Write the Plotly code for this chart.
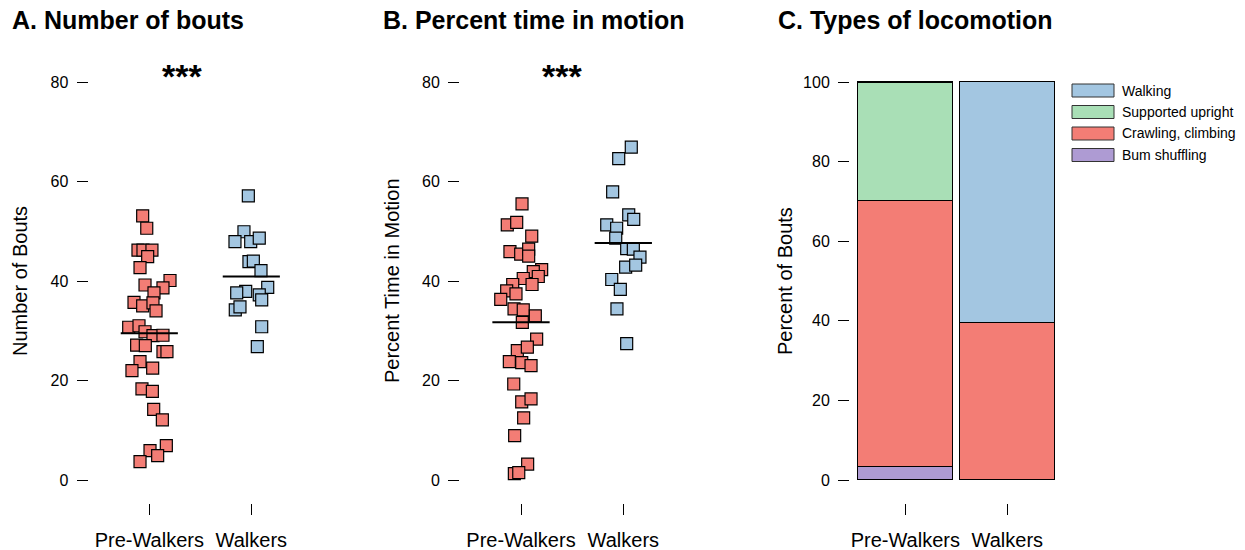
import plotly.graph_objects as go

W, H = 1245, 550
FONT = "Liberation Sans, Arial, Helvetica, sans-serif"

groups = ["Pre-Walkers", "Walkers"]

# Panel A: number of bouts
bouts_pre = [53.1, 50.6, 46.2, 46.2, 46.2, 44.9, 42.7, 39.2, 40.1, 38.6, 37.6, 35.7, 35.0, 35.6,
             34.0, 30.7, 31.0, 29.8, 29.0, 29.1, 27.1, 27.0, 25.8, 25.8, 23.8, 22.0, 22.5, 18.3,
             17.8, 14.2, 12.1, 6.9, 5.9, 4.9, 3.7]
bouts_pre_jit = [-0.065, -0.025, -0.111, -0.062, 0.026, -0.016, -0.091, -0.042, 0.203, 0.134,
                 0.046, -0.150, -0.065, 0.036, 0.066, -0.202, -0.101, -0.042, 0.036, 0.134,
                 -0.124, -0.039, 0.134, 0.173, -0.091, -0.170, 0.033, -0.072, 0.030, 0.043,
                 0.128, 0.167, 0.007, 0.082, -0.091]
bouts_walk = [57.1, 49.9, 47.9, 47.9, 48.6, 43.9, 44.0, 42.1, 38.7, 37.9, 37.6, 37.2, 36.2, 34.2,
              34.8, 30.8, 26.8]
bouts_walk_jit = [-0.029, -0.072, -0.160, -0.006, 0.078, -0.023, 0.020, 0.095, 0.161, -0.055,
                  -0.143, 0.078, 0.102, -0.157, -0.111, 0.102, 0.059]

# Panel B: percent time in motion
motion_pre = [55.5, 51.3, 51.8, 49.0, 45.9, 45.4, 46.4, 45.0, 42.3, 41.9, 40.5, 40.9, 39.3, 39.3,
              38.0, 37.4, 36.3, 34.4, 34.2, 33.0, 31.7, 28.3, 26.0, 26.7, 23.8, 23.6, 23.0, 19.3,
              15.7, 16.3, 12.5, 8.9, 3.2, 1.3, 1.5]
motion_pre_jit = [0.010, -0.134, -0.042, 0.105, -0.108, -0.003, 0.075, 0.075, 0.202, 0.120,
                  0.022, 0.169, 0.108, -0.081, -0.140, -0.049, -0.198, -0.068, 0.022, 0.140,
                  0.013, 0.153, -0.036, 0.062, -0.114, 0.007, 0.098, -0.071, 0.007, 0.098,
                  0.026, -0.062, 0.065, -0.065, -0.022]
motion_walk = [66.9, 64.6, 57.9, 53.3, 52.4, 51.3, 50.6, 48.6, 46.5, 46.4, 44.8, 42.8, 43.2, 40.3,
               38.3, 34.4, 27.4]
motion_walk_jit = [0.078, -0.045, -0.104, 0.053, 0.102, -0.162, -0.065, -0.074, 0.033, 0.098,
                   0.163, 0.023, 0.121, -0.113, -0.029, -0.062, 0.033]

# Panel C: types of locomotion (percent of bouts), stacked bottom -> top
loco_types = ["Bum shuffling", "Crawling, climbing", "Supported upright", "Walking"]
loco_pre = [3.3, 66.7, 29.7, 0.3]
loco_walk = [0.0, 39.4, 0.0, 60.6]

RED = "#F37D75"
BLUE = "#A3C6E1"
loco_colors = {"Walking": "#A3C6E1", "Supported upright": "#A9DFB6",
               "Crawling, climbing": "#F37D75", "Bum shuffling": "#AE9BD3"}


def px_x(p):
    return p / W


def px_y(p):
    return 1 - p / H


fig = go.Figure()


def add_strip(vals, jit, center, color, xa, ya):
    fig.add_trace(go.Scatter(
        x=[center + j for j in jit], y=vals, mode="markers", xaxis=xa, yaxis=ya,
        marker=dict(symbol="square", size=12, color=color,
                    line=dict(color="black", width=1.2)),
        showlegend=False, hoverinfo="y"))
    m = sum(vals) / len(vals)
    fig.add_trace(go.Scatter(
        x=[center - 0.28, center + 0.28], y=[m, m], mode="lines", xaxis=xa, yaxis=ya,
        line=dict(color="black", width=2), showlegend=False, hoverinfo="skip"))


add_strip(bouts_pre, bouts_pre_jit, 0, RED, "x", "y")
add_strip(bouts_walk, bouts_walk_jit, 1, BLUE, "x", "y")
add_strip(motion_pre, motion_pre_jit, 0, RED, "x2", "y2")
add_strip(motion_walk, motion_walk_jit, 1, BLUE, "x2", "y2")

for i, t in enumerate(loco_types):
    vals = [loco_pre[i], loco_walk[i]]
    fig.add_trace(go.Bar(
        x=[0, 1], y=[v if v > 0 else None for v in vals], width=0.93, name=t,
        xaxis="x3", yaxis="y3", marker=dict(color=loco_colors[t], line=dict(color="black", width=1)),
        showlegend=False))

# geometry (pixels)
bottom_px, top_px = 502.5, 62.0
zero_px = 480.0
ydom = [px_y(bottom_px), px_y(top_px)]
s_ab = (480.0 - 82.0) / 80.0
s_c = (480.0 - 82.0) / 100.0


def yrange(scale):
    return [-(bottom_px - zero_px) / scale, (zero_px - top_px) / scale]


def xsetup(left_px, right_px, c0, step):
    return dict(domain=[px_x(left_px), px_x(right_px)],
                range=[(left_px - c0) / step, (right_px - c0) / step])


tickfont = dict(family=FONT, size=20, color="black")
ytickfont = dict(family=FONT, size=16, color="black")
common_x = dict(tickvals=[0, 1], ticktext=groups, ticks="outside", ticklen=11, tickwidth=1,
                tickcolor="black", showline=False, showgrid=False, zeroline=False,
                tickfont=tickfont, ticklabelstandoff=8, fixedrange=True)
common_y = dict(ticks="outside", ticklen=11, tickwidth=1, tickcolor="black", showline=False,
                showgrid=False, zeroline=False, tickfont=ytickfont, ticklabelstandoff=5,
                domain=ydom, fixedrange=True)

fig.update_layout(
    width=W, height=H, autosize=False, margin=dict(l=0, r=0, t=0, b=0),
    plot_bgcolor="white", paper_bgcolor="white", barmode="stack", bargap=0,
    font=dict(family=FONT, color="black"),
    xaxis=dict(**xsetup(88.5, 300, 149.3, 102.0), anchor="y", **common_x),
    yaxis=dict(range=yrange(s_ab), tickvals=[0, 20, 40, 60, 80], anchor="x", **common_y),
    xaxis2=dict(**xsetup(460, 690, 521.0, 102.3), anchor="y2", **common_x),
    yaxis2=dict(range=yrange(s_ab), tickvals=[0, 20, 40, 60, 80], anchor="x2", **common_y),
    xaxis3=dict(**xsetup(850, 1062, 905.3, 102.0), anchor="y3", **common_x),
    yaxis3=dict(range=yrange(s_c), tickvals=[0, 20, 40, 60, 80, 100], anchor="x3", **common_y),
)

ann = []
# panel titles
for x, t in [(10, "A. Number of bouts"), (381, "B. Percent time in motion"), (776, "C. Types of locomotion")]:
    ann.append(dict(x=px_x(x), y=px_y(20), xref="paper", yref="paper", xanchor="left", yanchor="middle",
                    text="<b>%s</b>" % t, showarrow=False, font=dict(family=FONT, size=25, color="black")))
# y axis titles
for x, t in [(20, "Number of Bouts"), (392, "Percent Time in Motion"), (785, "Percent of Bouts")]:
    ann.append(dict(x=px_x(x), y=px_y(281), xref="paper", yref="paper", xanchor="center", yanchor="middle",
                    text=t, textangle=-90, showarrow=False, font=dict(family=FONT, size=20, color="black")))
# significance stars
for x, xr, yr in [(0.318, "x", "y"), (0.40, "x2", "y2")]:
    ann.append(dict(x=x, y=81.3, xref=xr, yref=yr, xanchor="center", yanchor="middle", text="<b>***</b>",
                    showarrow=False, font=dict(family=FONT, size=34, color="black")))

# legend (drawn manually to match wide swatches)
shapes = []
legend_order = ["Walking", "Supported upright", "Crawling, climbing", "Bum shuffling"]
for i, t in enumerate(legend_order):
    cy = 90.5 + i * 21.5
    shapes.append(dict(type="rect", xref="paper", yref="paper", x0=px_x(1072), x1=px_x(1114),
                       y0=px_y(cy + 6.5), y1=px_y(cy - 6.5), fillcolor=loco_colors[t],
                       line=dict(color="#333333", width=1)))
    ann.append(dict(x=px_x(1120), y=px_y(cy), xref="paper", yref="paper", xanchor="left", yanchor="middle",
                    text=t, showarrow=False, font=dict(family=FONT, size=14, color="black")))

fig.update_layout(annotations=ann, shapes=shapes)
fig.write_html("out.html")
